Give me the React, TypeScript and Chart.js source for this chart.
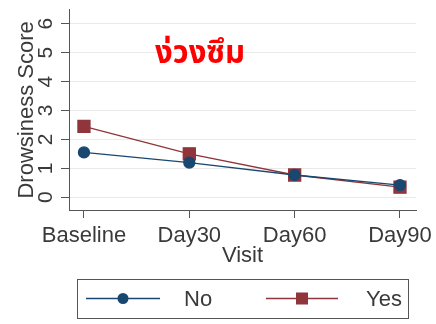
import React, { useEffect, useRef } from "react";
import { Chart, registerables } from "chart.js";

Chart.register(...registerables);

const categories = ["Baseline", "Day30", "Day60", "Day90"];
const noValues = [1.55, 1.2, 0.77, 0.42];
const yesValues = [2.45, 1.5, 0.77, 0.35];
const yTicks = [0, 1, 2, 3, 4, 5, 6];
const seriesNames = ["No", "Yes"];
const titleText = "ง่วงซึม";
const xTitle = "Visit";
const yTitle = "Drowsiness Score";

const NAVY = "#1a476f";
const MAROON = "#90353b";
const TEXT = "#3a3a3a";
const AXIS = "#555555";
const FONT = "'Liberation Sans', Arial, sans-serif";

const overlayPlugin = {
  id: "overlay",
  afterDraw(chart: any) {
    const ctx = chart.ctx;
    ctx.save();
    // rotated y tick labels (Stata style)
    const ys = chart.scales.y;
    ctx.fillStyle = TEXT;
    ctx.font = "21px " + FONT;
    ctx.textAlign = "center";
    ctx.textBaseline = "middle";
    yTicks.forEach((v) => {
      const py = ys.getPixelForValue(v);
      ctx.save();
      ctx.translate(46, py);
      ctx.rotate(-Math.PI / 2);
      ctx.fillText(String(v), 0, 0);
      ctx.restore();
    });

    // title inside plot
    ctx.fillStyle = "#ff0000";
    ctx.font = "bold 31px 'Noto Sans Thai', 'Loma', 'Garuda', 'Tlwg Typo', sans-serif";
    ctx.textAlign = "left";
    ctx.textBaseline = "alphabetic";
    ctx.fillText(titleText, 155, 63);

    // legend box
    const bx = 77, by = 279, bw = 331, bh = 39;
    ctx.strokeStyle = AXIS;
    ctx.lineWidth = 1;
    ctx.strokeRect(bx + 0.5, by + 0.5, bw, bh);
    const cy = by + bh / 2;
    const ds = chart.data.datasets;
    const items = [
      { x1: 86, x2: 160, tx: 184 },
      { x1: 266, x2: 338, tx: 366 },
    ];
    items.forEach((it, i) => {
      const d = ds[i];
      ctx.strokeStyle = d.borderColor;
      ctx.lineWidth = 1.3;
      ctx.beginPath();
      ctx.moveTo(it.x1, cy);
      ctx.lineTo(it.x2, cy);
      ctx.stroke();
      const mx = (it.x1 + it.x2) / 2;
      ctx.fillStyle = d.pointBackgroundColor;
      if (d.pointStyle === "rect") {
        ctx.fillRect(mx - 6, cy - 6, 12, 12);
      } else {
        ctx.beginPath();
        ctx.arc(mx, cy, 5.5, 0, Math.PI * 2);
        ctx.fill();
      }
      ctx.fillStyle = TEXT;
      ctx.font = "22px " + FONT;
      ctx.textAlign = "left";
      ctx.textBaseline = "middle";
      ctx.fillText(seriesNames[i], it.tx, cy + 1);
    });
    ctx.restore();
  },
};

export default function App() {
  const ref = useRef<HTMLCanvasElement | null>(null);

  useEffect(() => {
    document.body.style.margin = "0";
    const canvas = ref.current!;
    const chart = new Chart(canvas, {
      type: "line",
      data: {
        datasets: [
          {
            label: seriesNames[0],
            data: noValues.map((v, i) => ({ x: i, y: v })),
            borderColor: NAVY,
            backgroundColor: NAVY,
            pointBackgroundColor: NAVY,
            pointBorderColor: NAVY,
            pointStyle: "circle",
            pointRadius: 5.5,
            borderWidth: 1.3,
          },
          {
            label: seriesNames[1],
            data: yesValues.map((v, i) => ({ x: i, y: v })),
            borderColor: MAROON,
            backgroundColor: MAROON,
            pointBackgroundColor: MAROON,
            pointBorderColor: MAROON,
            pointStyle: "rect",
            pointRadius: 8.5,
            borderWidth: 1.3,
          },
        ],
      },
      options: {
        responsive: false,
        animation: false,
        layout: { padding: { left: 12, top: 7, right: 20, bottom: 55 } },
        plugins: {
          legend: { display: false },
          tooltip: { enabled: false },
          title: { display: false },
        },
        scales: {
          x: {
            type: "linear",
            min: -0.142,
            max: 3.152,
            afterBuildTicks: (s: any) => {
              s.ticks = categories.map((_, i) => ({ value: i }));
            },
            afterFit: (s: any) => {
              s.height = 324 - 55 - 210;
              s.paddingLeft = 0;
              s.paddingRight = 0;
            },
            ticks: {
              callback: (v: any) => categories[v] ?? "",
              color: TEXT,
              font: { family: FONT, size: 22 },
              padding: 5,
              maxRotation: 0,
              minRotation: 0,
              autoSkip: false,
            },
            grid: {
              drawOnChartArea: false,
              tickLength: 8,
              tickColor: AXIS,
            },
            border: { color: AXIS, width: 1 },
            title: {
              display: true,
              text: xTitle,
              color: TEXT,
              font: { family: FONT, size: 22 },
              padding: { top: 0, bottom: 0 },
            },
          },
          y: {
            type: "linear",
            min: -0.44,
            max: 6.48,
            afterBuildTicks: (s: any) => {
              s.ticks = yTicks.map((v) => ({ value: v }));
            },
            afterFit: (s: any) => {
              s.width = 69 - 12;
              s.paddingTop = 0;
              s.paddingBottom = 0;
            },
            ticks: {
              color: "rgba(0,0,0,0)",
              font: { family: FONT, size: 21 },
              padding: 9,
            },
            grid: {
              color: "#e9e9e9",
              tickColor: AXIS,
              tickLength: 8,
              lineWidth: 1,
            },
            border: { color: AXIS, width: 1 },
            title: {
              display: true,
              text: yTitle,
              color: TEXT,
              font: { family: FONT, size: 22 },
              padding: { top: 2, bottom: 0 },
            },
          },
        },
      },
      plugins: [overlayPlugin],
    } as any);
    return () => chart.destroy();
  }, []);

  return <canvas ref={ref} width={436} height={324} style={{ display: "block" }} />;
}
